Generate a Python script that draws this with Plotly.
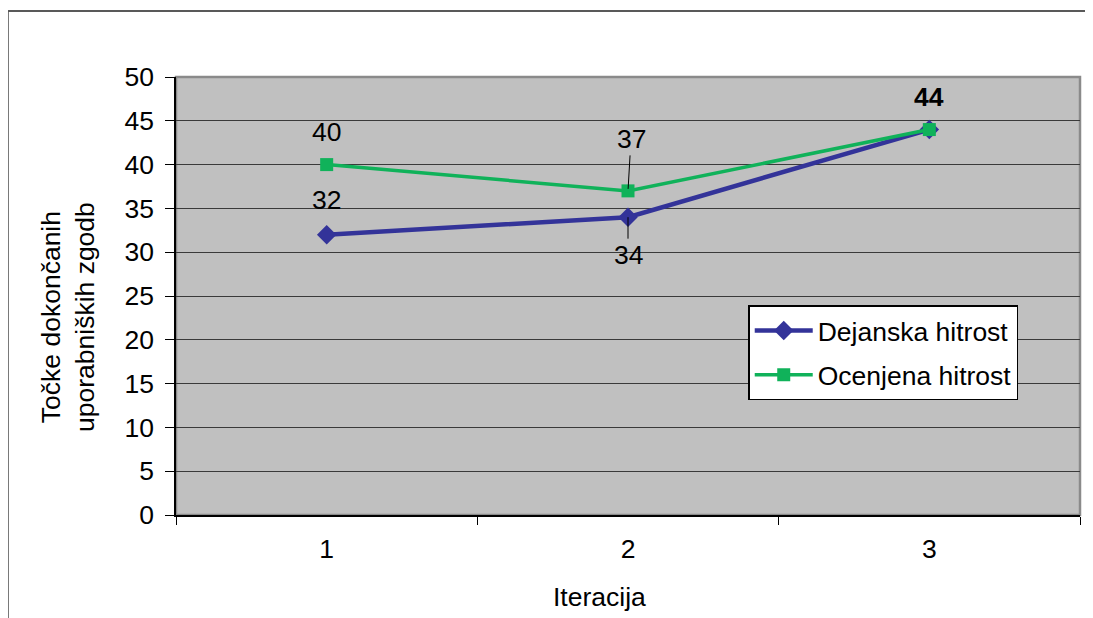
import plotly.graph_objects as go

iterations = [1, 2, 3]
iteration_labels = ["1", "2", "3"]
dejanska = [32, 34, 44]
ocenjena = [40, 37, 44]
y_ticks = [0, 5, 10, 15, 20, 25, 30, 35, 40, 45, 50]

FONT = "Liberation Sans, Arial, sans-serif"
FS = 26.5
BLUE = "#333399"
GREEN = "#10B25A"

fig = go.Figure()
fig.add_trace(go.Scatter(
    x=iterations, y=dejanska, name="Dejanska hitrost", mode="lines+markers",
    line=dict(color=BLUE, width=4.5), marker=dict(symbol="diamond", size=15, color=BLUE),
    legendgroup="a"))
fig.add_trace(go.Scatter(
    x=iterations, y=ocenjena, name="Ocenjena hitrost", mode="lines+markers",
    line=dict(color=GREEN, width=3.5), marker=dict(symbol="square", size=13, color=GREEN),
    legendgroup="b"))

# data labels
ann = []
ann.append(dict(x=iterations[0], y=ocenjena[0], text=str(ocenjena[0]), showarrow=False, yshift=33))
ann.append(dict(x=iterations[0], y=dejanska[0], text=str(dejanska[0]), showarrow=False, yshift=35))
ann.append(dict(x=iterations[1], y=ocenjena[1], text=str(ocenjena[1]), showarrow=True,
                ax=3, ay=-52, arrowhead=0, arrowwidth=1, arrowcolor="black", standoff=2))
ann.append(dict(x=iterations[1], y=dejanska[1], text=str(dejanska[1]), showarrow=True,
                ax=0, ay=38, arrowhead=0, arrowwidth=1, arrowcolor="black", standoff=0))
ann.append(dict(x=iterations[2], y=dejanska[2], text="<b>%d</b>" % dejanska[2], showarrow=False, yshift=33))
for a in ann:
    a.update(xref="x", yref="y", font=dict(family=FONT, size=FS, color="black"))

# axis titles
ann.append(dict(xref="paper", yref="paper", x=-0.1195, y=0.452, xanchor="center", yanchor="middle",
                text="Točke dokončanih<br>uporabniških zgodb", textangle=-90, showarrow=False,
                font=dict(family=FONT, size=FS, color="black")))
ann.append(dict(xref="paper", yref="paper", x=0.469, y=-0.187, xanchor="center", yanchor="middle",
                text="Iteracija", showarrow=False, font=dict(family=FONT, size=FS, color="black")))

fig.update_layout(
    width=1093, height=618,
    margin=dict(l=168, r=21, t=69, b=111),
    paper_bgcolor="white", plot_bgcolor="#C0C0C0",
    font=dict(family=FONT, size=FS, color="black"),
    annotations=ann,
    showlegend=True,
    legend=dict(x=0.633, y=0.479, xanchor="left", yanchor="top",
                bgcolor="white", bordercolor="black", borderwidth=1.5,
                font=dict(family=FONT, size=FS, color="black"),
                traceorder="grouped", tracegroupgap=7, itemwidth=58),
    shapes=[
        # outer chart border (top and left edges visible)
        dict(type="line", xref="paper", yref="paper", x0=-0.1858, x1=1.1, y0=1.1507, y1=1.1507,
             line=dict(color="#222222", width=1.5), layer="below"),
        dict(type="line", xref="paper", yref="paper", x0=-0.1858, x1=-0.1858, y0=-0.3, y1=1.1507,
             line=dict(color="#555555", width=1.5), layer="below"),
        # plot-area border
        dict(type="rect", xref="paper", yref="paper", x0=0, x1=1, y0=0, y1=1,
             line=dict(color="#8a8a8a", width=2.5), layer="below"),
    ],
)
fig.update_xaxes(
    range=[0.5, 3.5], tickmode="array", tickvals=iterations, ticktext=iteration_labels,
    ticks="", ticklabelstandoff=9, showgrid=False, zeroline=False,
    showline=True, linecolor="black", linewidth=1.5, mirror=False,
    minor=dict(tickmode="linear", tick0=0.5, dtick=1, ticks="outside", ticklen=8,
               tickcolor="black", tickwidth=1, showgrid=False),
    tickfont=dict(family=FONT, size=FS, color="black"))
fig.update_yaxes(
    range=[0, 50], tickmode="array", tickvals=y_ticks, ticks="outside", ticklen=9,
    tickcolor="black", tickwidth=1, ticklabelstandoff=6,
    showgrid=True, gridcolor="#3a3a3a", gridwidth=1, zeroline=False,
    showline=True, linecolor="black", linewidth=1.5,
    tickfont=dict(family=FONT, size=FS, color="black"))

fig.write_html("out.html")
